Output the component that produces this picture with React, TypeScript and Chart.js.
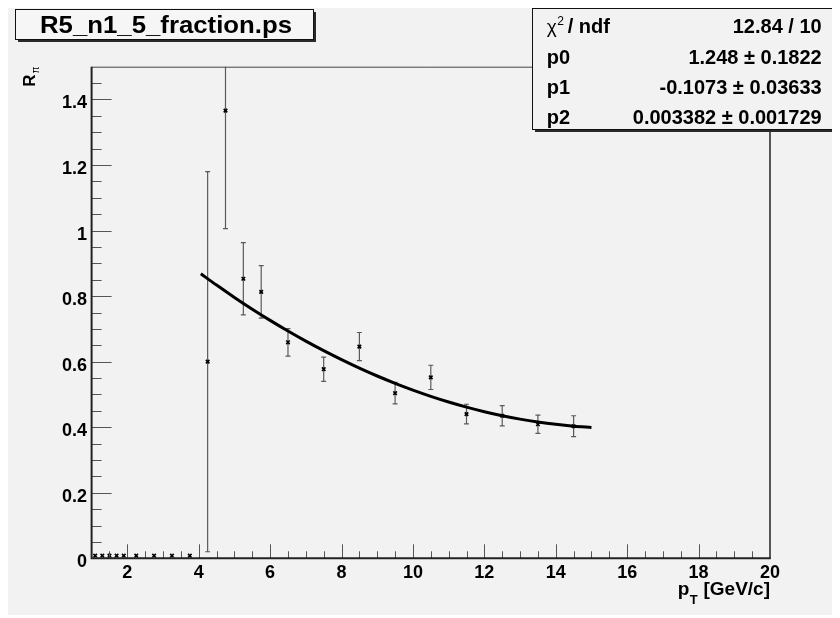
import React, { useEffect, useRef } from "react";
import { Chart, registerables } from "chart.js";

Chart.register(...registerables);

// ---- data ----
const titleText = "R5_n1_5_fraction.ps";
const xTickValues = [2, 4, 6, 8, 10, 12, 14, 16, 18, 20];
const xTickLabels = ["2", "4", "6", "8", "10", "12", "14", "16", "18", "20"];
const yTickValues = [0, 0.2, 0.4, 0.6, 0.8, 1, 1.2, 1.4];
const yTickLabels = ["0", "0.2", "0.4", "0.6", "0.8", "1", "1.2", "1.4"];

const pointX = [1.1, 1.3, 1.5, 1.7, 1.9, 2.25, 2.75, 3.25, 3.75, 4.25, 4.75, 5.25, 5.75, 6.5, 7.5, 8.5, 9.5, 10.5, 11.5, 12.5, 13.5, 14.5];
const pointY = [0.008, 0.008, 0.008, 0.008, 0.008, 0.008, 0.008, 0.008, 0.008, 0.6, 1.366, 0.853, 0.813, 0.659, 0.577, 0.646, 0.504, 0.552, 0.44, 0.435, 0.409, 0.403];
const pointErr = [0, 0, 0, 0, 0, 0, 0, 0, 0, 0.58, 0.36, 0.11, 0.08, 0.042, 0.037, 0.043, 0.033, 0.037, 0.03, 0.031, 0.028, 0.032];

// fit: pol2 with parameters from the stats box
const fitParams = [1.248, -0.1073, 0.003382];
const fitX = [4.06, 4.5, 5, 5.5, 6, 6.5, 7, 7.5, 8, 8.5, 9, 9.5, 10, 10.5, 11, 11.5, 12, 12.5, 13, 13.5, 14, 14.5, 15];

const chi2Text = "12.84 / 10";
const statNames = ["p0", "p1", "p2"];
const statValues = ["1.248", "-0.1073", "0.003382"];
const statErrors = ["0.1822", "0.03633", "0.001729"];

const FONT = '"Liberation Sans", Arial, Helvetica, sans-serif';
const BG = "#f2f2f2";

const rootPlugin = {
  id: "rootStyle",
  beforeDraw(chart: any) {
    const ctx = chart.ctx;
    ctx.save();
    ctx.fillStyle = BG;
    ctx.fillRect(0, 0, chart.width, chart.height);
    ctx.restore();
  },
  beforeDatasetsDraw(chart: any) {
    const ctx = chart.ctx;
    const xs = chart.scales.x;
    const ys = chart.scales.y;
    const a = chart.chartArea;
    ctx.save();
    ctx.beginPath();
    ctx.rect(a.left, a.top, a.right - a.left, a.bottom - a.top);
    ctx.clip();
    ctx.strokeStyle = "#5a5a5a";
    ctx.lineWidth = 1.2;
    pointX.forEach((x, i) => {
      const e = pointErr[i];
      if (!e) return;
      const px = xs.getPixelForValue(x);
      const top = ys.getPixelForValue(pointY[i] + e);
      const bot = ys.getPixelForValue(pointY[i] - e);
      ctx.beginPath();
      ctx.moveTo(px, top);
      ctx.lineTo(px, bot);
      ctx.moveTo(px - 2.5, top);
      ctx.lineTo(px + 2.5, top);
      ctx.moveTo(px - 2.5, bot);
      ctx.lineTo(px + 2.5, bot);
      ctx.stroke();
    });
    ctx.restore();
  },
  afterDatasetsDraw(chart: any) {
    const ctx = chart.ctx;
    const xs = chart.scales.x;
    const ys = chart.scales.y;
    const a = chart.chartArea;
    ctx.save();

    // frame
    ctx.strokeStyle = "#444";
    ctx.lineWidth = 1;
    ctx.beginPath();
    ctx.moveTo(a.left, a.top + 0.5);
    ctx.lineTo(a.right, a.top + 0.5);
    ctx.stroke();
    ctx.strokeStyle = "#222";
    ctx.lineWidth = 1.5;
    ctx.beginPath();
    ctx.moveTo(a.right, a.top);
    ctx.lineTo(a.right, a.bottom);
    ctx.stroke();

    // ticks
    ctx.strokeStyle = "#555";
    ctx.lineWidth = 1;
    ctx.beginPath();
    for (let v = 1.5; v < 20; v += 0.5) {
      const px = Math.round(xs.getPixelForValue(v)) + 0.5;
      const major = xTickValues.includes(v);
      ctx.moveTo(px, a.bottom);
      ctx.lineTo(px, a.bottom - (major ? 14 : 7));
    }
    for (let k = 1; k <= 29; k++) {
      const v = k * 0.05;
      const py = Math.round(ys.getPixelForValue(v)) + 0.5;
      const major = k % 4 === 0;
      ctx.moveTo(a.left, py);
      ctx.lineTo(a.left + (major ? 20 : 10), py);
    }
    ctx.stroke();

    // axis lines
    ctx.strokeStyle = "#222";
    ctx.lineWidth = 2;
    ctx.beginPath();
    ctx.moveTo(a.left, a.top);
    ctx.lineTo(a.left, a.bottom + 1);
    ctx.moveTo(a.left - 1, a.bottom);
    ctx.lineTo(a.right + 0.75, a.bottom);
    ctx.stroke();

    // tick labels
    ctx.fillStyle = "#000";
    ctx.font = `bold 18px ${FONT}`;
    ctx.textBaseline = "alphabetic";
    ctx.textAlign = "center";
    xTickValues.forEach((v, i) => {
      ctx.fillText(xTickLabels[i], xs.getPixelForValue(v), a.bottom + 20);
    });
    ctx.textAlign = "right";
    yTickValues.forEach((v, i) => {
      ctx.fillText(yTickLabels[i], a.left - 4.5, ys.getPixelForValue(v) + 9);
    });

    // x axis title: p_T [GeV/c]
    ctx.textAlign = "left";
    ctx.font = `bold 19px ${FONT}`;
    const rest = " [GeV/c]";
    const wRest = ctx.measureText(rest).width;
    const wp = ctx.measureText("p").width;
    ctx.font = `bold 13px ${FONT}`;
    const wT = ctx.measureText("T").width;
    const xEnd = a.right;
    const xs0 = xEnd - wRest - wT - wp - 1;
    ctx.font = `bold 19px ${FONT}`;
    ctx.fillText("p", xs0, 587);
    ctx.font = `bold 13px ${FONT}`;
    ctx.fillText("T", xs0 + wp + 0.5, 596);
    ctx.font = `bold 19px ${FONT}`;
    ctx.fillText(rest, xs0 + wp + wT + 1, 587);

    // y axis title: R_pi
    ctx.save();
    ctx.translate(27, 78.7);
    ctx.rotate(-Math.PI / 2);
    ctx.font = `bold 17px ${FONT}`;
    ctx.textAlign = "left";
    ctx.fillText("R", 0, 0);
    const wR = ctx.measureText("R").width;
    ctx.font = `10px ${FONT}`;
    ctx.fillText("\u03c0", wR + 1, 4);
    ctx.restore();

    // title box
    ctx.fillStyle = "#2a2a2a";
    ctx.fillRect(10, 4, 298, 30);
    ctx.fillStyle = "#f6f6f6";
    ctx.fillRect(7.5, 1.5, 298, 30);
    ctx.strokeStyle = "#111";
    ctx.lineWidth = 1;
    ctx.strokeRect(7.5, 1.5, 298, 30);
    ctx.fillStyle = "#000";
    ctx.font = `bold 24px ${FONT}`;
    const tw = ctx.measureText(titleText).width;
    ctx.save();
    ctx.translate(32, 25.3);
    ctx.scale(252 / tw, 1);
    ctx.textAlign = "left";
    ctx.fillText(titleText, 0, 0);
    ctx.restore();

    // stats box
    ctx.fillStyle = "#2a2a2a";
    ctx.fillRect(527, 3, 302.5, 121);
    ctx.fillStyle = BG;
    ctx.fillRect(524.5, 0.5, 302.5, 121);
    ctx.strokeStyle = "#111";
    ctx.lineWidth = 1;
    ctx.strokeRect(524.5, 0.5, 302.5, 121);

    const lx = 538.7;
    const rx = 813.7;
    const rows = [25, 55.5, 86, 116];
    ctx.fillStyle = "#000";
    ctx.textAlign = "left";
    ctx.font = `19px ${FONT}`;
    ctx.fillText("\u03c7", lx, rows[0]);
    const wchi = ctx.measureText("\u03c7").width;
    ctx.font = `12px ${FONT}`;
    ctx.fillText("2", lx + wchi + 0.5, rows[0] - 8);
    ctx.font = `bold 20px ${FONT}`;
    ctx.fillText("/ ndf", lx + wchi + 11, rows[0]);
    ctx.textAlign = "right";
    ctx.fillText(chi2Text, rx, rows[0]);
    statNames.forEach((n, i) => {
      ctx.textAlign = "left";
      ctx.fillText(n, lx, rows[i + 1]);
      ctx.textAlign = "right";
      ctx.fillText(`${statValues[i]} \u00b1 ${statErrors[i]}`, rx, rows[i + 1]);
    });

    ctx.restore();
  },
};

export default function App() {
  const ref = useRef<HTMLCanvasElement>(null);
  useEffect(() => {
    if (!ref.current) return;
    const poly = (x: number) => fitParams[0] + fitParams[1] * x + fitParams[2] * x * x;
    const chart = new Chart(ref.current, {
      type: "scatter",
      data: {
        datasets: [
          {
            type: "line",
            label: "fit",
            data: fitX.map((x) => ({ x, y: poly(x) })),
            borderColor: "#000",
            borderWidth: 3,
            pointRadius: 0,
            tension: 0.3,
            fill: false,
          } as any,
          {
            label: "data",
            data: pointX.map((x, i) => ({ x, y: pointY[i] })),
            pointStyle: "crossRot",
            pointRadius: 2.5,
            pointBorderWidth: 1.6,
            borderColor: "#000",
            backgroundColor: "#000",
          },
        ],
      },
      options: {
        responsive: false,
        animation: false,
        layout: { padding: { left: 83.6, top: 58.7, right: 70, bottom: 56.7 } },
        plugins: {
          legend: { display: false },
          tooltip: { enabled: false },
          title: { display: false },
        },
        scales: {
          x: { type: "linear", min: 1, max: 20, display: false },
          y: { type: "linear", min: 0, max: 1.5, display: false },
        },
      },
      plugins: [rootPlugin],
    });
    return () => chart.destroy();
  }, []);
  return <canvas ref={ref} width={832} height={607} style={{ display: "block" }} />;
}
